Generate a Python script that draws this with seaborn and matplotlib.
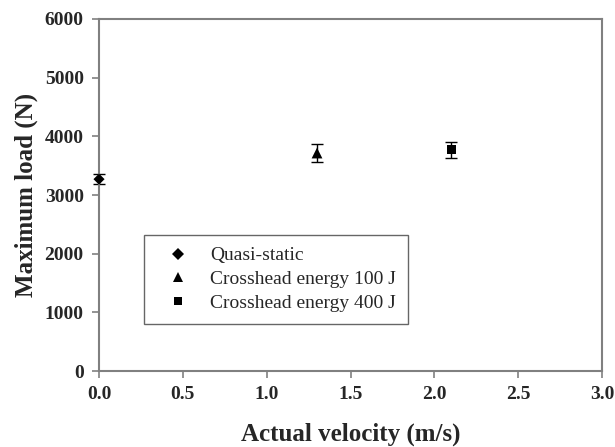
import matplotlib
matplotlib.use("Agg")
import matplotlib.pyplot as plt
import seaborn as sns
import pandas as pd

series = ["Quasi-static", "Crosshead energy 100 J", "Crosshead energy 400 J"]
velocity = [0.0, 1.3, 2.1]
max_load = [3270, 3715, 3770]
load_err = [83, 148, 136]
x_ticks = [0.0, 0.5, 1.0, 1.5, 2.0, 2.5, 3.0]
y_ticks = [0, 1000, 2000, 3000, 4000, 5000, 6000]

df = pd.DataFrame({"series": series, "velocity": velocity, "load": max_load, "err": load_err})

sns.set_theme(style="white")
plt.rcParams["font.family"] = ["Liberation Serif", "DejaVu Serif"]

fig = plt.figure(figsize=(6.15, 4.47), dpi=100)
ax = fig.add_axes([0.161, 0.170, 0.818, 0.7875])

eb = ax.errorbar(df["velocity"], df["load"], yerr=df["err"], fmt="none",
                 ecolor="black", elinewidth=1.0, capsize=4, capthick=1.0, zorder=2)
for art in eb.get_children():
    art.set_clip_on(False)
sns.scatterplot(data=df, x="velocity", y="load", hue="series", style="series",
                size="series",
                sizes={series[0]: 32, series[1]: 60, series[2]: 42},
                palette=["black"] * 3, markers=["D", "^", "s"],
                edgecolor="black", linewidth=0, ax=ax, zorder=3)
for coll in ax.collections:
    coll.set_clip_on(False)

ax.set_xlim(0, 3.0)
ax.set_ylim(0, 6000)
ax.set_xticks(x_ticks)
ax.set_xticklabels([f"{t:.1f}" for t in x_ticks])
ax.set_yticks(y_ticks)
ax.set_yticklabels([str(t) for t in y_ticks])
ax.tick_params(axis="both", direction="out", length=5, width=1.2, color="#808080",
               labelsize=14, pad=6, bottom=True, left=True)
for lab in ax.get_xticklabels() + ax.get_yticklabels():
    lab.set_fontweight("bold")
for sp in ax.spines.values():
    sp.set_color("#808080")
    sp.set_linewidth(1.5)
    sp.set_visible(True)
ax.set_xlabel("Actual velocity (m/s)", fontsize=18, fontweight="bold", labelpad=14)
ax.set_ylabel("Maximum load (N)", fontsize=18, fontweight="bold", labelpad=5)

handles, labels = ax.get_legend_handles_labels()
leg = ax.legend(handles=handles, labels=labels, loc="upper left",
                bbox_to_anchor=(0.0895, 0.386), fontsize=14, frameon=True,
                fancybox=False, borderpad=0.6, handlelength=2.3,
                handletextpad=0.5, labelspacing=0.32, borderaxespad=0,
                markerscale=1.0)
leg_sizes = [6.0, 6.6, 5.6]
for h, ms in zip(leg.legend_handles, leg_sizes):
    if hasattr(h, "set_markersize"):
        h.set_markersize(ms)
    elif hasattr(h, "set_sizes"):
        h.set_sizes([ms ** 2])
leg.get_frame().set_edgecolor("#404040")
leg.get_frame().set_linewidth(1.0)

fig.savefig("out.png", dpi=100)
